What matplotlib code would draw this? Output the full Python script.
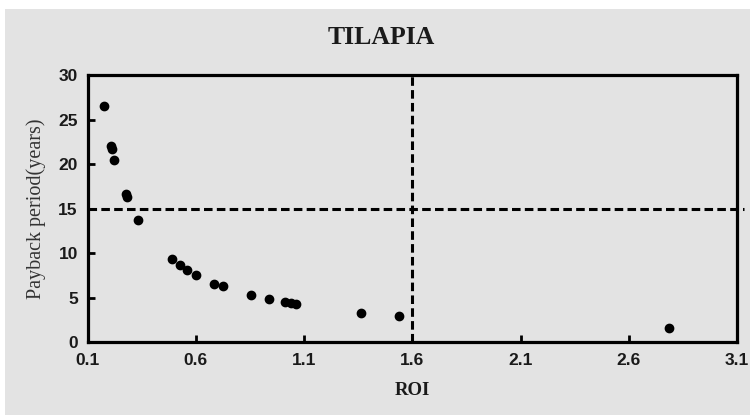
import matplotlib
matplotlib.use("Agg")
import matplotlib.pyplot as plt
from matplotlib.patches import Rectangle

# ROI vs payback period (years)
roi = [0.174, 0.209, 0.214, 0.224, 0.277, 0.284, 0.335, 0.489, 0.527, 0.561,
       0.601, 0.685, 0.724, 0.856, 0.937, 1.014, 1.039, 1.065, 1.364, 1.539, 2.786]
payback = [26.5, 22.0, 21.7, 20.5, 16.7, 16.3, 13.7, 9.4, 8.65, 8.1,
           7.6, 6.6, 6.3, 5.3, 4.85, 4.5, 4.4, 4.3, 3.3, 2.9, 1.6]

xticks = [0.1, 0.6, 1.1, 1.6, 2.1, 2.6, 3.1]
xticklabels = ["0.1", "0.6", "1.1", "1.6", "2.1", "2.6", "3.1"]
yticks = [0, 5, 10, 15, 20, 25, 30]

roi_cut = 1.6
payback_cut = 15

bg = "#e3e3e3"

fig = plt.figure(figsize=(7.5, 4.15), dpi=100, facecolor="white")
fig.patches.append(Rectangle((5 / 750, 0), 1, 1 - 9 / 415, transform=fig.transFigure,
                             facecolor=bg, edgecolor="none", zorder=-10))

ax = fig.add_axes([0.1167, 0.1752, 0.866, 0.6434])
ax.set_facecolor(bg)

ax.plot(roi, payback, "o", color="black", markersize=6, zorder=3)

ax.plot([0.1, 3.13], [payback_cut, payback_cut], color="black", lw=2.2,
        dashes=(2.8, 1.4), clip_on=False, zorder=2)
ax.plot([roi_cut, roi_cut], [0, 30], color="black", lw=2.2,
        dashes=(2.8, 1.4), zorder=2)

ax.set_xlim(0.1, 3.1)
ax.set_ylim(0, 30)
ax.set_xticks(xticks)
ax.set_xticklabels(xticklabels)
ax.set_yticks(yticks)

for s in ax.spines.values():
    s.set_linewidth(2.3)
    s.set_color("black")

ax.tick_params(direction="in", length=5, width=2, colors="black")
ax.tick_params(axis="x", pad=8)
ax.tick_params(axis="y", pad=7)
for lab in ax.get_xticklabels() + ax.get_yticklabels():
    lab.set_family("Liberation Sans")
    lab.set_fontweight("bold")
    lab.set_fontsize(12.5)
    lab.set_color("#1a1a1a")

ax.set_xlabel("ROI", family="Liberation Serif", fontweight="bold", fontsize=13.5,
              labelpad=10, color="#1a1a1a")
ax.set_ylabel("Payback period(years)", family="Liberation Serif", fontsize=14.5,
              labelpad=9, color="#333333")

fig.text(0.509, 1 - 37 / 415, "TILAPIA", family="Liberation Serif", fontweight="bold",
         fontsize=18.5, ha="center", va="center", color="#1a1a1a")

fig.savefig("out.png", dpi=100, facecolor=fig.get_facecolor())
